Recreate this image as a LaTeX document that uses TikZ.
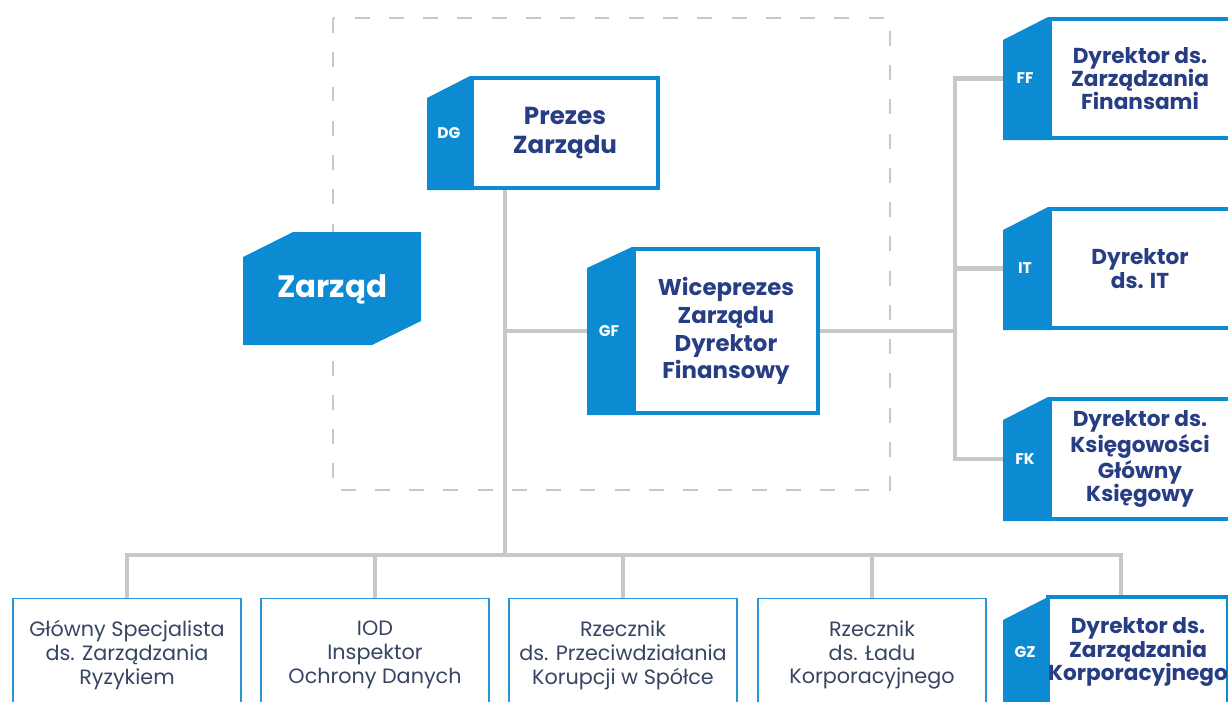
\documentclass[tikz,border=0pt]{standalone}
\usepackage{fontspec}
\setmainfont{Poppins}
\usetikzlibrary{positioning,calc}
\pgfdeclarelayer{background}
\pgfsetlayers{background,main}
\definecolor{zblue}{RGB}{12,139,210}
\definecolor{zline}{RGB}{40,150,215}
\definecolor{znavy}{RGB}{40,62,132}
\definecolor{zslate}{RGB}{55,68,100}
\definecolor{zgray}{RGB}{200,200,200}
\tikzset{
	head/.style={draw=zblue, line width=2.3pt, fill=white, outer sep=0pt, inner sep=0pt, align=center, text=znavy, font=\bfseries\fontsize{13}{15.8}\selectfont},
	headbig/.style={head, font=\bfseries\fontsize{14}{16}\selectfont},
	headtight/.style={head, font=\bfseries\fontsize{12.3}{13.2}\selectfont},
	post/.style={draw=zline, line width=1.1pt, fill=white, outer sep=0pt, inner sep=0pt, align=center, text=zslate, font=\fontsize{11.8}{13.6}\selectfont, minimum width=4.56cm, minimum height=2.26cm},
	tabtxt/.style={text=white, font=\bfseries\fontsize{8.8}{10}\selectfont},
	tabfill/.style={fill=zblue},
	link/.style={draw=zgray, line width=2.3pt}
}
\begin{document}
\begin{tikzpicture}[x=0.02cm,y=-0.02cm]
				\useasboundingbox (0,0) rectangle (1228,701);
				% board
				\fill[tabfill] (243,257) -- (293,232) -- (421,232) -- (421,321) -- (372,345) -- (243,345) -- cycle;
				\node[text=white, font=\bfseries\fontsize{17.6}{20}\selectfont] (zarzad) at (332,289) {Zarząd};
				
				% management
				\fill[tabfill] (427,190) -- (427,98) -- (470,76) -- (474,76) -- (474,190) -- cycle;
				\node[headbig, minimum width=3.72cm, minimum height=2.2cm] (dgb) at (565,133) {Prezes\\Zarządu};
				\node[tabtxt] (dg) at (449,133) {DG};
				
				\fill[tabfill] (587,415) -- (587,268) -- (632,247) -- (636,247) -- (636,415) -- cycle;
				\node[head, minimum width=3.68cm, minimum height=3.28cm] (gfb) at (726,331) {Wiceprezes\\Zarządu\\Dyrektor\\Finansowy};
				\node[tabtxt] (gf) at (609,331) {GF};
				
				% directors
				\fill[tabfill] (1003,140) -- (1003,40) -- (1048,17) -- (1052,17) -- (1052,140) -- cycle;
				\node[headtight, minimum width=3.6cm, minimum height=2.38cm] (ffb) at (1140,78.5) {Dyrektor ds.\\Zarządzania\\Finansami};
				\node[tabtxt] (ff) at (1025,78.5) {FF};
				
				\fill[tabfill] (1003,330) -- (1003,230) -- (1048,207) -- (1052,207) -- (1052,330) -- cycle;
				\node[headtight, minimum width=3.6cm, minimum height=2.38cm] (itb) at (1140,268.5) {Dyrektor\\ds. IT};
				\node[tabtxt] (it) at (1025,268.5) {IT};
				
				\fill[tabfill] (1003,521) -- (1003,420) -- (1048,397) -- (1052,397) -- (1052,521) -- cycle;
				\node[headtight, minimum width=3.6cm, minimum height=2.4cm] (fkb) at (1140,459) {Dyrektor ds.\\Księgowości\\Główny\\Księgowy};
				\node[tabtxt] (fk) at (1025,459) {FK};
				
				\fill[tabfill] (1003,712) -- (1003,620) -- (1048,597) -- (1052,597) -- (1052,712) -- cycle;
				\node[headtight, minimum width=3.6cm, minimum height=2.22cm] (gzb) at (1138,652) {Dyrektor ds.\\Zarządzania\\Korporacyjnego};
				\node[tabtxt] (gz) at (1025,652) {GZ};
				
				% posts
				\node[post] (r1) at (127,655) {Główny Specjalista\\ds. Zarządzania\\Ryzykiem};
				\node[post] (r2) at (375,655) {IOD\\Inspektor\\Ochrony Danych};
				\node[post] (r3) at (623,655) {Rzecznik\\ds. Przeciwdziałania\\Korupcji w Spółce};
				\node[post] (r4) at (872,655) {Rzecznik\\ds. Ładu\\Korporacyjnego};
				
				\begin{pgfonlayer}{background}
					\draw[zgray, line width=1.1pt, dash pattern=on 8.5pt off 11pt] (333,18) rectangle (890,490);
					\coordinate (trunk) at (505,555);
					\coordinate (rail) at (955,331);
					\coordinate (gzdrop) at (1121,555);
					\draw[link] (dgb.south -| trunk) -- (trunk);
					\draw[link] (trunk |- gfb) -- (gfb);
					\draw[link] (gfb) -- (rail);
					\draw[link] (ffb) -- (rail |- ffb) -- (rail |- fkb) -- (fkb);
					\draw[link] (rail |- itb) -- (itb);
					\draw[link] (r1.north) -- (r1 |- trunk) -- (gzdrop) -- (gzdrop |- gzb.north);
					\draw[link] (r2 |- trunk) -- (r2.north);
					\draw[link] (r3 |- trunk) -- (r3.north);
					\draw[link] (r4 |- trunk) -- (r4.north);
				\end{pgfonlayer}
			\end{tikzpicture}
\end{document}
